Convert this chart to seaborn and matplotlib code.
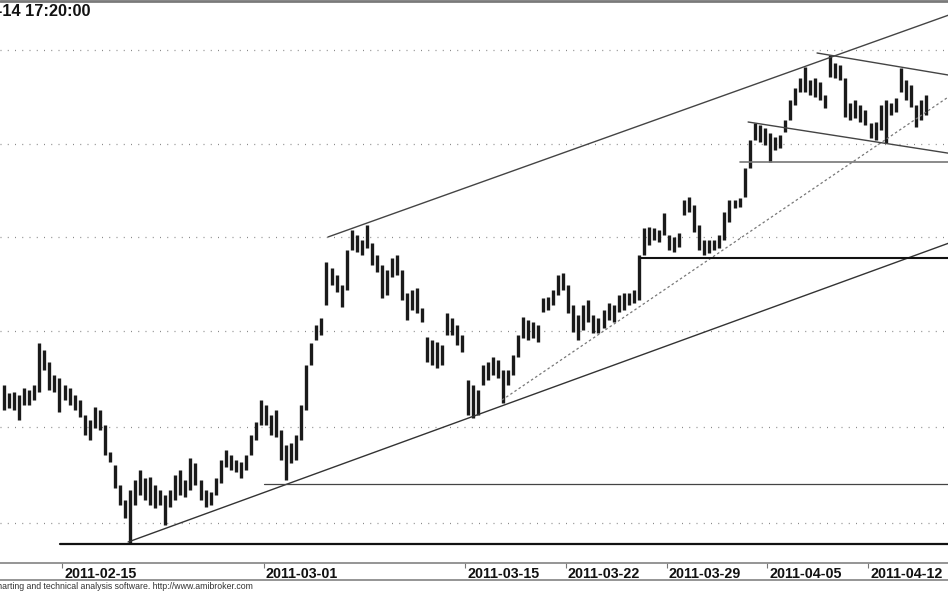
import numpy as np
import pandas as pd
import matplotlib
matplotlib.use("Agg")
import matplotlib.pyplot as plt
from matplotlib.lines import Line2D
import seaborn as sns

# ---------------- data (price units) ----------------
trading_days = pd.bdate_range("2011-02-10", "2011-04-14")   # 46 sessions
bars_per_day = 4

bar_high = [215, 207, 208, 205, 212, 210, 215, 257, 250, 238, 225, 222, 215, 212, 205, 200,
            185, 180, 193, 190, 175, 148, 135, 115, 100, 110, 120, 130, 122, 123, 115, 110,
            105, 110, 125, 130, 120, 142, 137, 120, 110, 108, 122, 140, 150, 145, 140, 138,
            145, 165, 178, 200, 195, 185, 190, 170, 155, 157, 165, 195, 235, 257, 275, 282,
            338, 332, 325, 315, 350, 370, 365, 360, 375, 357, 345, 335, 330, 342, 345, 330,
            307, 310, 312, 292, 263, 260, 258, 255, 287, 282, 275, 265, 220, 215, 210, 235,
            238, 243, 240, 230, 230, 245, 265, 283, 280, 278, 275, 302, 303, 310, 325, 327,
            315, 295, 285, 295, 300, 285, 282, 290, 297, 295, 305, 307, 307, 310, 345, 372,
            373, 372, 370, 387, 365, 363, 367, 400, 403, 395, 375, 360, 360, 360, 365, 388,
            400, 400, 402, 432, 460, 477, 475, 472, 467, 463, 465, 480, 500, 512, 522, 533,
            520, 522, 518, 505, 545, 537, 535, 522, 497, 500, 495, 490, 477, 478, 495, 500,
            497, 502, 532, 520, 515, 495, 500, 505]
bar_low = [190, 192, 190, 180, 195, 195, 200, 208, 230, 210, 208, 188, 200, 195, 190, 183,
           165, 160, 172, 170, 145, 138, 112, 95, 82, 57, 95, 105, 100, 95, 92, 95,
           75, 93, 100, 105, 103, 110, 115, 100, 93, 95, 105, 117, 133, 130, 128, 122,
           130, 145, 160, 175, 175, 165, 163, 140, 120, 137, 140, 160, 190, 235, 260, 265,
           295, 315, 308, 293, 310, 350, 348, 345, 352, 335, 328, 302, 305, 323, 325, 300,
           280, 290, 287, 278, 238, 235, 232, 235, 265, 265, 255, 248, 185, 182, 185, 215,
           220, 225, 222, 197, 215, 225, 243, 262, 260, 262, 258, 288, 290, 295, 305, 310,
           287, 268, 260, 270, 278, 267, 267, 272, 280, 278, 288, 290, 295, 297, 300, 345,
           355, 360, 358, 365, 350, 348, 353, 385, 388, 368, 350, 345, 347, 350, 352, 360,
           378, 392, 393, 403, 432, 460, 458, 455, 438, 450, 452, 468, 480, 495, 508, 508,
           505, 503, 500, 492, 523, 522, 520, 483, 480, 482, 478, 475, 462, 460, 470, 457,
           485, 488, 508, 500, 493, 473, 480, 485]

tick_labels = ["2011-02-15", "2011-03-01", "2011-03-15", "2011-03-22",
               "2011-03-29", "2011-04-05", "2011-04-12"]

grid_levels = [77, 173, 269, 363, 456, 550]

# trend lines drawn on the chart: (session position, price) anchor pairs
upper_channel_x, upper_channel_y = [16.20, 47.57], [363, 589]
lower_channel_x, lower_channel_y = [6.28, 47.57], [58, 361]
dotted_trend_x, dotted_trend_y = [24.84, 47.57], [200, 511]
falling_a_x, falling_a_y = [37.05, 47.57], [478, 445]
falling_b_x, falling_b_y = [40.47, 47.57], [547, 523]
level_hi_x, level_hi_y = [36.65, 47.57], [438, 438]
level_mid_x, level_mid_y = [31.69, 47.57], [342, 342]
level_lo_x, level_lo_y = [13.00, 47.57], [116, 116]
level_base_x, level_base_y = [2.90, 47.57], [56, 56]

# ---------------- style ----------------
sns.set_style("white")
plt.rcParams["font.family"] = ["Liberation Sans", "DejaVu Sans"]

W, H = 948, 593
fig = plt.figure(figsize=(W / 100, H / 100), dpi=100)
ax = fig.add_axes([0, 30 / H, 1, 560 / H])

bar_x = np.arange(len(bar_high)) / bars_per_day + 0.5 / bars_per_day
ax.vlines(bar_x, bar_low, bar_high, color="#1a1a1a", lw=2.4)

def trend(xs, ys, color="#333333", lw=1.0, ls="-"):
    sns.lineplot(x=xs, y=ys, ax=ax, color=color, lw=lw, linestyle=ls,
                 estimator=None, sort=False, legend=False)

trend(upper_channel_x, upper_channel_y, color="#444444", lw=1.0)
trend(lower_channel_x, lower_channel_y, color="#333333", lw=1.0)
trend(dotted_trend_x, dotted_trend_y, color="#777777", lw=0.9, ls=(0, (2.0, 2.0)))
trend(falling_a_x, falling_a_y, color="#444444", lw=1.0)
trend(falling_b_x, falling_b_y, color="#444444", lw=1.0)
trend(level_hi_x, level_hi_y, color="#777777", lw=1.2)
trend(level_mid_x, level_mid_y, color="#111111", lw=1.5)
trend(level_lo_x, level_lo_y, color="#444444", lw=0.9)
trend(level_base_x, level_base_y, color="#111111", lw=1.6)

ax.set_xlim(-0.077, 46.97)
ax.set_ylim(37, 597)

# horizontal dotted grid
ax.set_yticks(grid_levels)
ax.set_yticklabels([])
ax.yaxis.grid(True, linestyle=(0, (0.8, 5.0)), color="#8a8a8a", lw=0.9)
ax.xaxis.grid(False)
ax.tick_params(axis="y", length=0)

# date ticks
tick_pos = [trading_days.get_loc(pd.Timestamp(d)) for d in tick_labels]
ax.set_xticks(tick_pos)
ax.set_xticklabels([])
ax.tick_params(axis="x", direction="out", length=3.5, width=0.8, color="#777777", bottom=True)
for pos, lab in zip(tick_pos, tick_labels):
    ax.annotate(lab, xy=(pos, 0), xycoords=("data", "axes fraction"),
                xytext=(2, -4), textcoords="offset pixels",
                ha="left", va="top", fontsize=10.3, fontweight="bold", color="#111111",
                annotation_clip=False)

for side in ["top", "left", "right"]:
    ax.spines[side].set_visible(False)
ax.spines["bottom"].set_color("#8c8c8c")
ax.spines["bottom"].set_linewidth(1.3)

# frame lines of the chart window
fig.add_artist(Line2D([0, 1], [1 - 1.2 / H, 1 - 1.2 / H], color="#7a7a7a", lw=2.0))
fig.add_artist(Line2D([0, 1], [1 - 580 / H, 1 - 580 / H], color="#8c8c8c", lw=1.3))

# title (date of last bar, clipped at the left edge as in the original) and footer
fig.text(91 / W, 1 - 4 / H, "2011-04-14 17:20:00", ha="right", va="top",
         fontsize=11.8, fontweight="bold", color="#111111")
fig.text(253 / W, 1 - 589 / H, "AmiBroker - charting and technical analysis software. http://www.amibroker.com",
         ha="right", va="baseline", fontsize=6.3, color="#333333")

fig.savefig("out.png", dpi=100)
